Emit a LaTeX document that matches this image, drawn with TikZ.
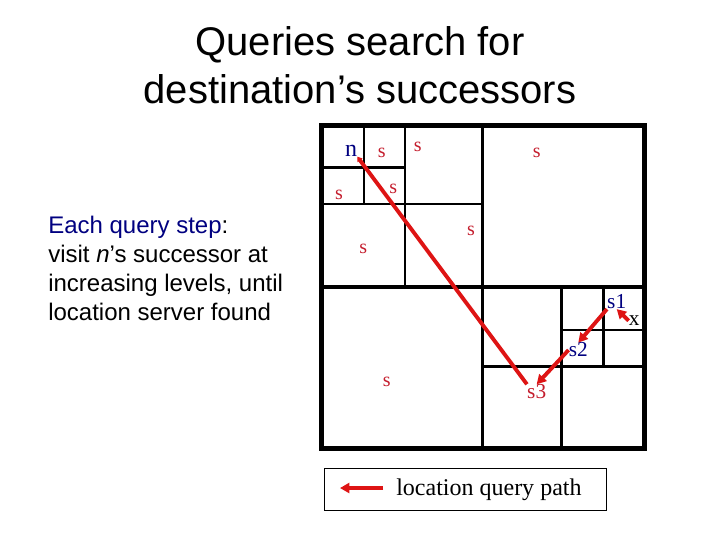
\documentclass[tikz,border=0pt]{standalone}
\usepackage{fontspec}
\setmainfont{Liberation Serif}
\newfontfamily\slidefont{Liberation Sans}
\usetikzlibrary{arrows.meta}

\definecolor{navyblue}{RGB}{0,0,128}
\definecolor{succred}{RGB}{196,28,44}
\definecolor{pathred}{RGB}{222,20,20}

\tikzset{
	outer line/.style={line width=3.75pt},
	zone line/.style={line width=2.7pt},
	cell line/.style={line width=1.9pt},
	query path/.style={draw=pathred, line width=2.9pt, -{Triangle[length=7pt,width=7.5pt]}},
	short tip/.style={-{Triangle[length=3.5pt,width=4.5pt]}},
	succ label/.style={inner sep=0pt, text=succred, font=\fontsize{15}{18}\selectfont},
	loc label/.style={inner sep=0pt, text=navyblue, font=\fontsize{16}{19}\selectfont}}

\begin{document}
\begin{tikzpicture}[x=0.75pt,y=0.75pt,yscale=-1,xscale=1]
	\path[use as bounding box] (0,0) rectangle (720,540);

	% Title
	\draw (360,55) node [anchor=base, font=\slidefont\fontsize{30}{36}\selectfont] (title1) {Queries search for};
	\draw (360,103) node [anchor=base, font=\slidefont\fontsize{30}{36}\selectfont] (title2) {destination’s successors};

	% Text Node
	\draw (48,216) node [anchor=north west, inner sep=0pt, align=left, font=\slidefont\fontsize{18}{21.75}\selectfont] (steptext) {\textcolor{navyblue}{Each query step}:\\visit \textit{n}’s successor at\\increasing levels, until\\location server found};

	%Shape: Square [outer]
	\draw [outer line] (321,125.5) rectangle (644,448.5);
	%Shape: Lines [quadrants]
	\draw [zone line] (482.5,125.5) -- (482.5,448.5) (321,287) -- (644,287);
	%Shape: Lines [top left]
	\draw [cell line] (405,125.5) -- (405,287) (321,204) -- (482.5,204);
	\draw [cell line] (364,125.5) -- (364,204) (321,167.7) -- (405,167.7);
	%Shape: Lines [bottom right]
	\draw [cell line] (561.7,287) -- (561.7,448.5) (482.5,366.7) -- (644,366.7);
	\draw [cell line] (603.7,287) -- (603.7,366.7) (561.7,330) -- (644,330);

	% Text Node
	\draw (351,150.7) node [loc label, font=\fontsize{18}{20}\selectfont] (n) {n};
	\draw (381.7,153.3) node [succ label] (s11) {s};
	\draw (417.7,147.3) node [succ label] (s12) {s};
	\draw (536.7,153.3) node [succ label] (s13) {s};
	\draw (339,195) node [succ label] (s14) {s};
	\draw (393.3,189.3) node [succ label] (s15) {s};
	\draw (471,231) node [succ label] (s16) {s};
	\draw (363.3,249.3) node [succ label] (s17) {s};
	\draw (386.7,381.7) node [succ label] (s18) {s};
	\draw (616.7,301.7) node [loc label] (s1) {s1};
	\draw (578.3,350) node [loc label] (s2) {s2};
	\draw (536.7,391.7) node [succ label, font=\fontsize{16}{19}\selectfont] (s3) {s3};
	\draw (634.3,320.7) node [inner sep=0pt, font=\fontsize{16}{19}\selectfont] (x) {x};

	% Query path
	\draw [query path] (x.west) -- (s1.south);
	\draw [query path] (s1.south west) -- (s2.north);
	\draw [query path] (s2.west) -- (s3.north);
	\draw [query path, short tip] (s3.north west) -- (n.south east);

	% Legend
	\draw (465.5,489.2) node [draw, line width=0.75pt, minimum width=211.8pt, minimum height=31.3pt] (legendbox) {};
	\coordinate (legtail) at (383,488);
	\coordinate (leghead) at (340,488);
	\draw [query path] (legtail) -- (leghead);
	\draw (396,495) node [anchor=base west, inner sep=0pt, font=\fontsize{18}{21}\selectfont] (legendtext) {location query path};

\end{tikzpicture}
\end{document}
